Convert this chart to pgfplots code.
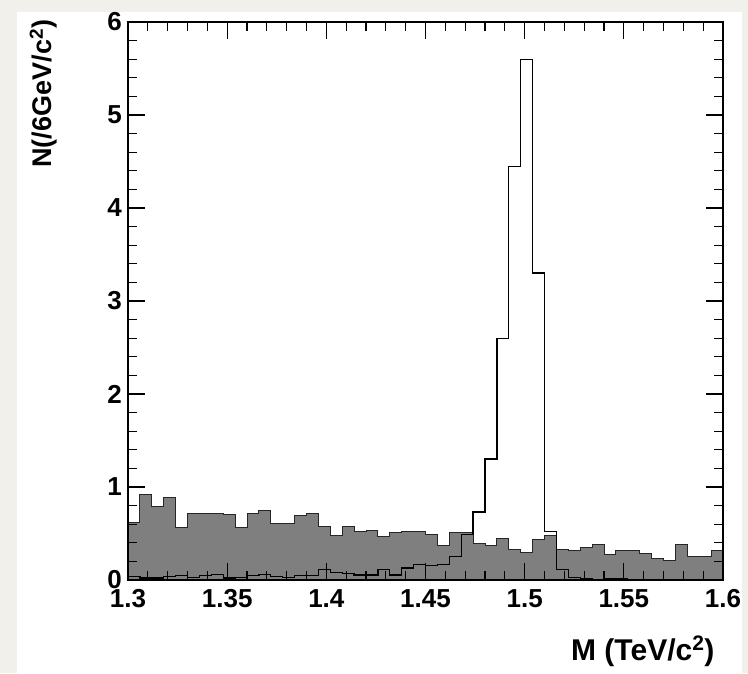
\documentclass[border=0pt]{standalone}
\usepackage{pgfplots}
\pgfplotsset{compat=1.18}
\usepackage{fontspec}
\setmainfont{Liberation Sans}
\definecolor{bgc}{RGB}{241,240,234}
\definecolor{hgray}{RGB}{127,127,127}
\begin{document}
\begin{tikzpicture}[x=1pt,y=1pt]
\fill[bgc] (0,0) rectangle (748,673);
\fill[white] (17,0) rectangle (742,661);
\begin{axis}[
  at={(128pt,93pt)}, anchor=south west,
  scale only axis, width=595pt, height=558pt,
  xmin=1.3, xmax=1.6, ymin=0, ymax=6,
  axis on top,
  xtick={1.3,1.35,1.4,1.45,1.5,1.55,1.6},
  xticklabels={1.3,1.35,1.4,1.45,1.5,1.55,1.6},
  ytick={0,1,2,3,4,5,6},
  yticklabels={0,1,2,3,4,5,6},
  minor x tick num=4, minor y tick num=4,
  tick align=inside,
  major tick length=17pt, minor tick length=9pt,
  every tick/.style={black, line width=1.3pt},
  axis line style={line width=2pt},
  ticklabel style={font=\fontsize{26}{30}\selectfont\bfseries},
  xticklabel style={anchor=base, yshift=-27pt, inner sep=0pt},
  yticklabel style={anchor=east, inner sep=0pt, xshift=-6pt},
  xlabel={M (TeV/c\textsuperscript{2})},
  ylabel={N(/6GeV/c\textsuperscript{2})},
  xlabel style={font=\fontsize{30}{34}\selectfont\bfseries, at={(axis description cs:0.9916,-0.1434)}, anchor=base east},
  ylabel style={font=\fontsize{27}{32}\selectfont\bfseries, at={(axis description cs:-0.128,1.01)}, anchor=base east},
]
\addplot[const plot, fill=hgray, draw=black!85, line width=1pt] coordinates {
(1.300,0.62) (1.306,0.92) (1.312,0.79) (1.318,0.89) (1.324,0.56)
(1.330,0.72) (1.336,0.71) (1.342,0.72) (1.348,0.70) (1.354,0.56)
(1.360,0.72) (1.366,0.745) (1.372,0.61) (1.378,0.61) (1.384,0.69)
(1.390,0.71) (1.396,0.57) (1.402,0.48) (1.408,0.57) (1.414,0.52)
(1.420,0.53) (1.426,0.47) (1.432,0.51) (1.438,0.52) (1.444,0.52)
(1.450,0.49) (1.456,0.37) (1.462,0.51) (1.468,0.51) (1.474,0.39)
(1.480,0.37) (1.486,0.45) (1.492,0.33) (1.498,0.30) (1.504,0.44)
(1.510,0.48) (1.516,0.33) (1.522,0.32) (1.528,0.35) (1.534,0.38)
(1.540,0.27) (1.546,0.315) (1.552,0.32) (1.558,0.28) (1.564,0.23)
(1.570,0.215) (1.576,0.38) (1.582,0.25) (1.588,0.25) (1.594,0.315)
(1.600,0.315)} \closedcycle;
\addplot[const plot, draw=black, line width=1.3pt] coordinates {
(1.300,0.04) (1.306,0.02) (1.312,0.02) (1.318,0.04) (1.324,0.05)
(1.330,0.025) (1.336,0.05) (1.342,0.06) (1.348,0.02) (1.354,0.03)
(1.360,0.045) (1.366,0.06) (1.372,0.04) (1.378,0.03) (1.384,0.045)
(1.390,0.045) (1.396,0.11) (1.402,0.08) (1.408,0.07) (1.414,0.055)
(1.420,0.055) (1.426,0.115) (1.432,0.055) (1.438,0.13) (1.444,0.17)
(1.450,0.155) (1.456,0.17) (1.462,0.25) (1.468,0.49) (1.474,0.73)
(1.480,1.30) (1.486,2.60) (1.492,4.45) (1.498,5.60) (1.504,3.30)
(1.510,0.52) (1.516,0.115) (1.522,0.025) (1.528,0.01) (1.534,0.005)
(1.540,0.01) (1.546,0.01) (1.552,0.005) (1.558,0.005) (1.564,0.005)
(1.570,0.005) (1.576,0.005) (1.582,0.005) (1.588,0.005) (1.594,0.005)
(1.600,0.005)};
\end{axis}
\pgfresetboundingbox
\path[use as bounding box] (0,0) rectangle (748,673);
\end{tikzpicture}
\end{document}
